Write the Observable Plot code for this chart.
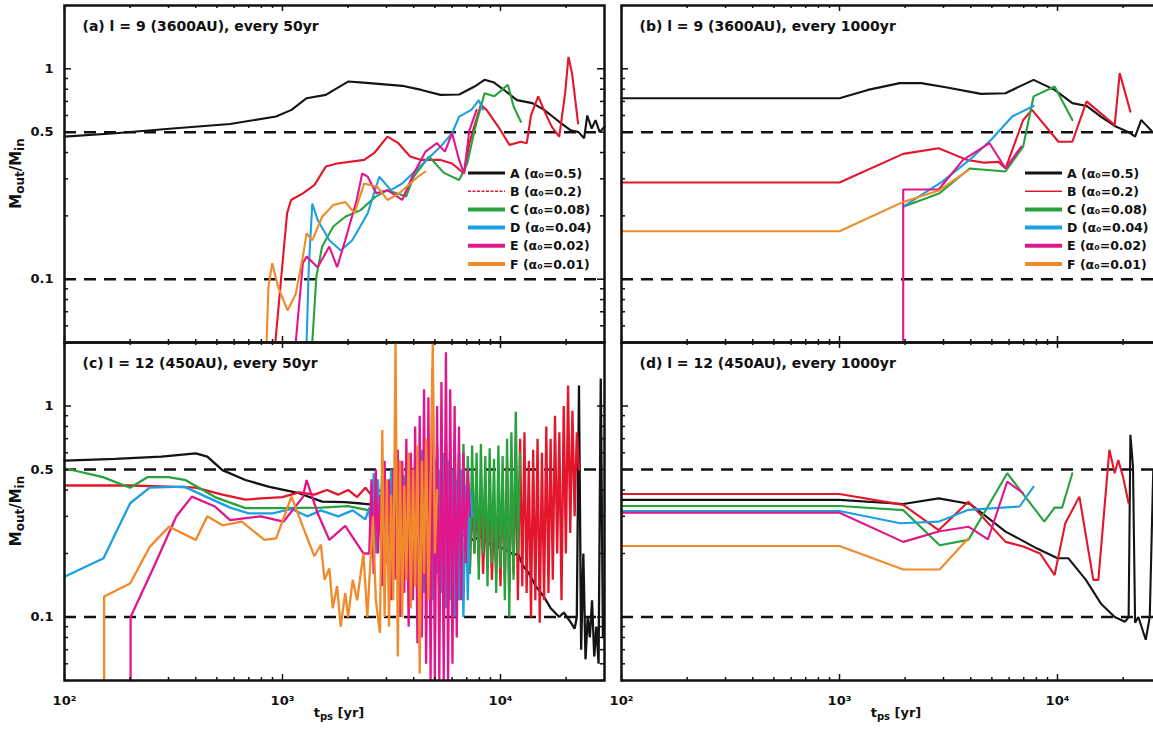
<!DOCTYPE html>
<html><head><meta charset="utf-8">
<script src="https://cdn.jsdelivr.net/npm/d3@7"></script>
<script src="https://cdn.jsdelivr.net/npm/@observablehq/plot@0.6"></script>
<style>
html,body{margin:0;padding:0;background:#fff;}
#wrap{position:relative;width:1153px;height:729px;overflow:hidden;background:#fff;}
#wrap svg{position:absolute;}
</style></head><body><div id="wrap"></div><script>
// ---------- series keys, colours, legend labels ----------
const seriesKeys = ["A","B","C","D","E","F"];
const alphaLabels = ["0.5","0.2","0.08","0.04","0.02","0.01"];
const colors = {A:"#141414", B:"#e3162b", C:"#27a23d", D:"#1ca0e0", E:"#e2168c", F:"#f08a2a"};
const titles = ["(a) l = 9 (3600AU), every 50yr","(b) l = 9 (3600AU), every 1000yr","(c) l = 12 (450AU), every 50yr","(d) l = 12 (450AU), every 1000yr"];
const dashLevels = [0.5, 0.1];
const yLabelTicks = [0.1, 0.5, 1];
const yMajor = [0.1, 1];
const yMinor = [0.05,0.06,0.07,0.08,0.09,0.2,0.3,0.4,0.5,0.6,0.7,0.8,0.9];
const xMajor = [100, 1000, 10000];
const xMinor = [200,300,400,500,600,700,800,900,2000,3000,4000,5000,6000,7000,8000,9000,20000];
const xDomain = [100, 30000];
const yDomain = [0.05, 2];

// ---------- panel (a): l=9, every 50yr ----------
const a_A = [[100,0.476],[171,0.494],[313,0.52],[575,0.547],[934,0.593],[1100,0.638],[1290,0.725],[1580,0.752],[1780,0.81],[2000,0.87],[2350,0.86],[3540,0.83],[4340,0.794],[5300,0.752],[6470,0.755],[7600,0.824],[8450,0.887],[9350,0.86],[10600,0.78],[11900,0.71],[14000,0.687],[15800,0.64],[18600,0.56],[21000,0.51],[22800,0.50],[24200,0.468],[25000,0.60],[26200,0.52],[27300,0.57],[28500,0.5],[30000,0.53]];
const a_B = [[927,0.04],[975,0.089],[1010,0.133],[1050,0.206],[1095,0.238],[1240,0.256],[1400,0.28],[1580,0.343],[1780,0.355],[2370,0.369],[2630,0.397],[3030,0.476],[3400,0.443],[3850,0.383],[4340,0.369],[5310,0.369],[6000,0.355],[6800,0.318],[7200,0.443],[7650,0.55],[8130,0.674],[8630,0.638],[9780,0.53],[11000,0.435],[12400,0.45],[13200,0.443],[13800,0.60],[14900,0.74],[15800,0.64],[17200,0.53],[18600,0.476],[19800,0.766],[20500,1.14],[21300,0.95],[22700,0.55]];
const a_C = [[1370,0.04],[1430,0.103],[1520,0.143],[1710,0.178],[1940,0.198],[2280,0.213],[2680,0.247],[3030,0.265],[3690,0.247],[4000,0.307],[4700,0.383],[5500,0.32],[6460,0.296],[7040,0.355],[7600,0.51],[8450,0.766],[9350,0.74],[10100,0.79],[10800,0.84],[11500,0.66],[12400,0.56]];
const a_D = [[1290,0.04],[1320,0.114],[1370,0.229],[1450,0.191],[1640,0.153],[1850,0.137],[2090,0.153],[2460,0.206],[2780,0.307],[3140,0.265],[3540,0.285],[4340,0.349],[5310,0.427],[6000,0.494],[6460,0.593],[7350,0.638],[7950,0.71],[8300,0.64]];
const a_E = [[1150,0.04],[1240,0.119],[1290,0.128],[1450,0.114],[1640,0.143],[1780,0.114],[1940,0.153],[2190,0.238],[2320,0.318],[2460,0.307],[2690,0.256],[3030,0.265],[3540,0.238],[4000,0.318],[4530,0.404],[5110,0.443],[5560,0.404],[6000,0.494],[6460,0.369],[6800,0.318],[7200,0.51],[7770,0.638]];
const a_F = [[845,0.04],[862,0.092],[897,0.119],[955,0.092],[1055,0.071],[1150,0.085],[1240,0.128],[1290,0.165],[1370,0.153],[1520,0.198],[1710,0.225],[1940,0.233],[2140,0.206],[2370,0.285],[2720,0.275],[3030,0.238],[3430,0.256],[3710,0.275],[4180,0.307],[4530,0.325]];

// ---------- panel (b): l=9, every 1000yr ----------
const b_A = [[100,0.725],[1000,0.725],[1350,0.794],[1890,0.855],[2370,0.855],[3070,0.818],[4460,0.76],[5770,0.766],[7770,0.886],[9700,0.794],[11700,0.687],[13600,0.666],[15800,0.593],[18300,0.535],[21200,0.50],[22700,0.476],[24200,0.571],[25500,0.54],[27300,0.50],[30000,0.52]];
const b_B = [[100,0.288],[1000,0.288],[1960,0.394],[2850,0.419],[3840,0.369],[4620,0.358],[5370,0.361],[5780,0.336],[6960,0.571],[7640,0.638],[10100,0.45],[11700,0.45],[13600,0.70],[18300,0.54],[19300,0.953],[21600,0.626]];
const b_C = [[1960,0.221],[2880,0.256],[3950,0.336],[5770,0.325],[6960,0.427],[7770,0.74],[9700,0.824],[11700,0.571]];
const b_D = [[1960,0.221],[2950,0.29],[3950,0.369],[4950,0.459],[6200,0.593],[7770,0.666]];
const b_E = [[1960,0.04],[1960,0.267],[2850,0.267],[3690,0.369],[4880,0.443],[5780,0.336],[6820,0.427]];
const b_F = [[100,0.169],[1000,0.169],[1960,0.233],[2880,0.265],[3900,0.33]];

// ---------- panel (c): l=12, every 50yr (smooth early parts) ----------
const c_A_early = [[100,0.551],[171,0.561],[278,0.575],[400,0.597],[452,0.575],[530,0.497],[676,0.446],[861,0.415],[1190,0.386],[1520,0.352],[1930,0.35],[2300,0.345],[2670,0.34],[3150,0.365],[3990,0.358],[4600,0.31],[5300,0.278],[5900,0.26],[6500,0.25],[7340,0.232],[8200,0.24],[9000,0.22],[9770,0.215],[10500,0.21],[11500,0.197],[12000,0.2],[12700,0.175],[13500,0.161],[14500,0.14],[15800,0.125],[17000,0.11],[18600,0.1],[19500,0.105],[20900,0.095]];
const c_B_early = [[100,0.42],[200,0.42],[300,0.415],[400,0.41],[530,0.38],[676,0.36],[800,0.365],[1000,0.37],[1190,0.39],[1400,0.38],[1600,0.4],[1800,0.38],[2000,0.4],[2200,0.37],[2400,0.41],[2600,0.37],[2800,0.4]];
const c_C_early = [[100,0.507],[150,0.46],[200,0.41],[240,0.46],[300,0.46],[360,0.445],[490,0.37],[676,0.328],[1000,0.328],[1500,0.33],[2000,0.335],[2500,0.32],[2800,0.33]];
const c_D_early = [[100,0.155],[151,0.19],[200,0.346],[246,0.41],[354,0.415],[450,0.37],[575,0.33],[700,0.31],[900,0.31],[1100,0.325],[1300,0.3],[1500,0.32],[1800,0.3],[2100,0.32],[2400,0.29]];
const c_E_early = [[201,0.04],[201,0.1],[257,0.173],[326,0.3],[384,0.372],[490,0.334],[575,0.288],[795,0.30],[1010,0.283],[1240,0.37],[1290,0.446],[1450,0.31],[1640,0.232],[1940,0.27],[2350,0.2]];
const c_F_early = [[152,0.04],[152,0.125],[200,0.144],[246,0.215],[302,0.268],[400,0.232],[452,0.30],[530,0.272],[650,0.283],[826,0.232],[935,0.236],[1100,0.372],[1240,0.268],[1400,0.194],[1500,0.22],[1560,0.15],[1640,0.17],[1700,0.11],[1780,0.14],[1850,0.09],[1940,0.13],[2000,0.1],[2100,0.15],[2200,0.12],[2350,0.2],[2450,0.1],[2600,0.3],[2680,0.12]];

// sampling times of the strongly oscillating part of panel (c)
const tGrid = [2500,2560,2620,2680,2740,2800,2870,2940,3010,3080,3150,3220,3300,3380,3460,3540,3620,3700,3790,3880,3970,4060,4160,4260,4360,4460,4560,4670,4780,4890,5000,5120,5240,5360,5490,5620,5750,5880,6020,6160,6300,6450,6600,6760,6920,7080,7240,7410,7590,7770,7950,8130,8320,8520,8720,8920,9130,9340,9560,9780,10000,10230,10470,10720,10970,11220,11480,11750,12020,12300,12590,12880,13180,13490,13800,14120,14450,14790,15140,15490,15850,16220,16600,16980,17380,17780,18200,18620,19050,19500,19950,20420,20890,21380,21880,22390,22910,23440,23990,24550,25120,25700,26300,26920,27540,28180,28840,29510];
// oscillating values (first index into tGrid, then values)
const c_A_osc_start = 94;
const c_A_osc = [0.088,0.1,1.25,0.07,0.2,0.063,0.1,0.08,0.12,0.065,0.09,0.06,1.35,0.08];
const c_B_osc_start = 8;
const c_B_osc = [0.38,0.43,0.36,0.41,0.35,0.42,0.34,0.4,0.32,0.42,0.3,0.4,0.32,0.45,0.28,0.42,0.25,0.45,0.24,0.4,0.22,0.45,0.2,0.42,0.22,0.4,0.2,0.45,0.22,0.38,0.19,0.42,0.2,0.35,0.18,0.4,0.2,0.36,0.17,0.38,0.2,0.35,0.18,0.4,0.16,0.33,0.17,0.38,0.15,0.3,0.16,0.36,0.14,0.45,0.15,0.55,0.13,0.5,0.16,0.6,0.12,0.7,0.14,0.75,0.13,0.55,0.1,0.62,0.12,0.7,0.094,0.6,0.12,0.8,0.13,0.7,0.15,0.9,0.2,0.75,0.12,1.0,0.2,1.25,0.25,0.95,0.3,0.75,0.5];
const c_C_osc_start = 6;
const c_C_osc = [0.32,0.4,0.3,0.42,0.28,0.45,0.25,0.4,0.2,0.5,0.18,0.45,0.17,0.5,0.2,0.55,0.25,0.6,0.22,0.5,0.2,0.62,0.18,0.58,0.22,0.65,0.2,0.6,0.18,0.68,0.2,0.65,0.17,0.7,0.2,0.6,0.18,0.66,0.22,0.58,0.16,0.65,0.2,0.6,0.15,0.66,0.2,0.58,0.14,0.63,0.18,0.56,0.13,0.65,0.17,0.58,0.12,0.7,0.1,0.75,0.15,0.94,0.2,0.6];
const c_D_osc_start = 0;
const c_D_osc = [0.33,0.22,0.48,0.2,0.45,0.26,0.5,0.2,0.42,0.24,0.5,0.22,0.45,0.17,0.55,0.2,0.47,0.15,0.6,0.2,0.5,0.14,0.55,0.18,0.62,0.13,0.5,0.15,0.6,0.12,0.55,0.16,0.5,0.13,0.6,0.11,0.55,0.12,0.5,0.1,0.45,0.12,0.5,0.1,0.42,0.12,0.4,0.3];
const c_E_osc_start = 0;
const c_E_osc = [0.2,0.45,0.16,0.5,0.2,0.38,0.14,0.55,0.18,0.45,0.12,0.5,0.15,0.62,0.1,0.55,0.13,0.7,0.09,0.6,0.12,0.8,0.075,0.9,0.08,1.2,0.06,1.1,0.045,1.5,0.04,1.0,0.04,1.3,0.045,1.8,0.04,1.2,0.06,1.0,0.08,0.8,0.12,0.6,0.18,0.5,0.3];
const c_F_osc_start = 5;
const c_F_osc = [0.084,0.77,0.1,0.45,0.09,0.38,0.12,2.5,0.065,0.55,0.1,0.42,0.15,0.6,0.11,0.5,0.14,0.65,0.054,0.55,0.16,0.7,0.12,0.45,2.5,0.2,0.4];

// ---------- panel (d): l=12, every 1000yr ----------
const d_A = [[100,0.359],[1000,0.359],[1960,0.343],[2850,0.365],[3980,0.343],[5780,0.254],[8070,0.211],[10000,0.19],[11200,0.19],[13500,0.15],[15800,0.116],[18300,0.1],[20400,0.095],[21200,0.1],[21600,0.73],[22200,0.516],[22700,0.094],[23500,0.1],[25400,0.078],[26500,0.1],[27500,0.5],[28500,0.06]];
const d_B = [[100,0.383],[1000,0.383],[1960,0.34],[2850,0.258],[3900,0.352],[5780,0.227],[6960,0.216],[8320,0.2],[9700,0.158],[10860,0.278],[12600,0.372],[14600,0.15],[15400,0.15],[17300,0.62],[18300,0.48],[19000,0.555],[20000,0.46],[21200,0.346]];
const d_C = [[100,0.336],[1000,0.336],[1960,0.321],[2880,0.219],[3900,0.232],[5880,0.48],[8700,0.283],[9700,0.33],[10500,0.33],[11700,0.48]];
const d_D = [[100,0.318],[1000,0.318],[1900,0.278],[2850,0.283],[3900,0.322],[6700,0.334],[7770,0.415]];
const d_E = [[100,0.312],[1000,0.312],[1960,0.227],[2850,0.254],[3900,0.268],[4800,0.233],[5880,0.438],[6960,0.386]];
const d_F = [[100,0.217],[1000,0.217],[1960,0.168],[2880,0.168],[3900,0.236]];

// ---------- build tables ----------
const osc = (start, vals) => vals.map((v, i) => [tGrid[start + i], v]);
const panelData = [
  {A:a_A, B:a_B, C:a_C, D:a_D, E:a_E, F:a_F},
  {A:b_A, B:b_B, C:b_C, D:b_D, E:b_E, F:b_F},
  {A:c_A_early.concat(osc(c_A_osc_start, c_A_osc)),
   B:c_B_early.concat(osc(c_B_osc_start, c_B_osc)),
   C:c_C_early.concat(osc(c_C_osc_start, c_C_osc)),
   D:c_D_early.concat(osc(c_D_osc_start, c_D_osc)),
   E:c_E_early.concat(osc(c_E_osc_start, c_E_osc)),
   F:c_F_early.concat(osc(c_F_osc_start, c_F_osc))},
  {A:d_A, B:d_B, C:d_C, D:d_D, E:d_E, F:d_F}
];

const FONT = "'DejaVu Sans', sans-serif";
const sup = {2:"\u00b2", 3:"\u00b3", 4:"\u2074"};
const layout = [
  {left:0,   top:0,   width:612, height:345, ml:64, mr:8, mt:5, mb:3,  yLab:true,  xLab:false, legend:true,  dashedB:true},
  {left:600, top:0,   width:570, height:345, ml:21, mr:9, mt:5, mb:3,  yLab:false, xLab:false, legend:true,  dashedB:false},
  {left:0,   top:337, width:612, height:392, ml:64, mr:8, mt:5, mb:49, yLab:true,  xLab:true,  legend:false},
  {left:600, top:337, width:570, height:392, ml:21, mr:9, mt:5, mb:49, yLab:false, xLab:true,  legend:false}
];
const legendWidths = {A:3, B:1.5, C:4, D:4, E:4, F:4};

const wrap = document.getElementById("wrap");
layout.forEach((L, p) => {
  const fw = L.width - L.ml - L.mr, fh = L.height - L.mt - L.mb;
  const data = panelData[p];
  const marks = [
    Plot.ruleY(dashLevels, {y: d => d, stroke:"#111", strokeWidth:2.5, strokeDasharray:"12,8"})
  ];
  seriesKeys.forEach(k => {
    marks.push(Plot.line(data[k], {x: d => d[0], y: d => d[1], stroke: colors[k],
      strokeWidth: (p === 2 ? 2.3 : 2.1), strokeLinejoin:"miter"}));
  });
  marks.push(Plot.frame({stroke:"#111", strokeWidth:2.5}));
  const tc = {stroke:"#111", strokeWidth:1.5};
  marks.push(
    Plot.tickY(yMajor, {y: d => d, insetRight: fw - 7, ...tc}),
    Plot.tickY(yMinor, {y: d => d, insetRight: fw - 4, ...tc}),
    Plot.tickY(yMajor, {y: d => d, insetLeft: fw - 7, ...tc}),
    Plot.tickY(yMinor, {y: d => d, insetLeft: fw - 4, ...tc}),
    Plot.tickX(xMajor, {x: d => d, insetTop: fh - 6, ...tc}),
    Plot.tickX(xMinor, {x: d => d, insetTop: fh - 3, ...tc}),
    Plot.tickX(xMajor, {x: d => d, insetBottom: fh - 6, ...tc}),
    Plot.tickX(xMinor, {x: d => d, insetBottom: fh - 3, ...tc})
  );
  marks.push(Plot.text([titles[p]], {text: d => d, frameAnchor:"top-left", dx:18, dy:21,
    textAnchor:"start", lineAnchor:"middle", fontSize:14, fontWeight:"bold", fill:"#111"}));
  if (L.yLab) marks.push(Plot.text(yLabelTicks, {y: d => d, text: d => String(d), frameAnchor:"left",
    dx:-11, textAnchor:"end", lineAnchor:"middle", fontSize:13, fontWeight:"bold", fill:"#111"}));
  if (L.xLab) marks.push(Plot.text(xMajor, {x: d => d, text: d => "10" + sup[Math.round(Math.log10(d))],
    frameAnchor:"bottom", dy:20, textAnchor:"middle", lineAnchor:"middle", fontSize:13, fontWeight:"bold", fill:"#111"}));

  const svg = Plot.plot({
    width: L.width, height: L.height,
    marginLeft: L.ml, marginRight: L.mr, marginTop: L.mt, marginBottom: L.mb,
    x: {type:"log", domain: xDomain, axis: null},
    y: {type:"log", domain: yDomain, axis: null, clamp: true},
    style: {background:"transparent", overflow:"visible", fontFamily: FONT},
    marks
  });
  svg.style.left = L.left + "px";
  svg.style.top = L.top + "px";
  svg.style.maxWidth = "none";
  const S = d3.select(svg);
  const frameTop = L.mt, frameRight = L.width - L.mr, frameBottom = L.height - L.mb;

  if (L.yLab) {
    const t = S.append("text").attr("transform", `translate(21,${frameTop + fh / 2}) rotate(-90)`)
      .attr("text-anchor","middle").attr("font-family", FONT).attr("font-weight","bold")
      .attr("font-size",15).attr("fill","#111");
    t.append("tspan").text("M");
    t.append("tspan").attr("font-size",12).attr("dy",3).text("out");
    t.append("tspan").attr("dy",-3).text("/M");
    t.append("tspan").attr("font-size",12).attr("dy",3).text("in");
  }
  if (L.xLab) {
    const t = S.append("text").attr("x", L.ml + 275).attr("y", frameBottom + 37)
      .attr("text-anchor","middle").attr("font-family", FONT).attr("font-weight","bold")
      .attr("font-size",13).attr("fill","#111");
    t.append("tspan").text("t");
    t.append("tspan").attr("font-size",10).attr("dy",3).text("ps");
    t.append("tspan").attr("dy",-3).text(" [yr]");
  }
  if (L.legend) {
    const g = S.append("g").attr("font-family", FONT).attr("font-weight","bold").attr("font-size",12.5)
      .attr("fill","#111").attr("text-anchor","start");
    seriesKeys.forEach((k, i) => {
      const y = frameTop + 168 + i * 18.2;
      const ln = g.append("line").attr("x1", frameRight - 136).attr("x2", frameRight - 99)
        .attr("y1", y).attr("y2", y).attr("stroke", colors[k]).attr("stroke-width", legendWidths[k]);
      if (k === "B" && L.dashedB) ln.attr("stroke-dasharray","3,1.5");
      g.append("text").attr("x", frameRight - 94).attr("y", y).attr("dy","0.36em")
        .attr("text-anchor","start")
        .text(`${k} (\u03b1\u2080=${alphaLabels[i]})`);
    });
  }
  wrap.appendChild(svg);
});
</script></body></html>
